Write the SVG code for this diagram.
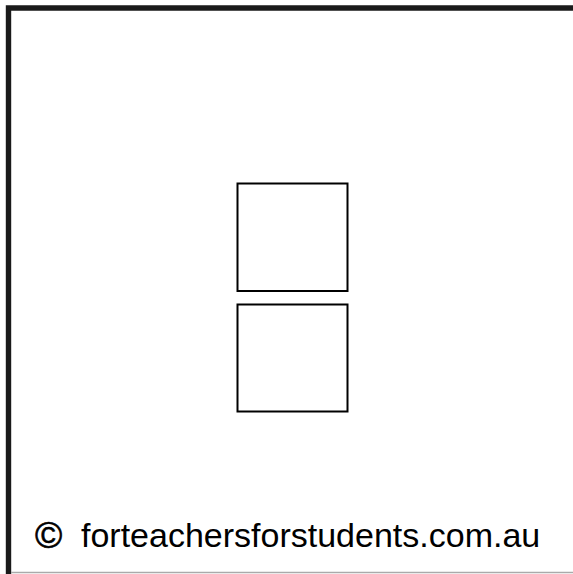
<svg xmlns="http://www.w3.org/2000/svg" width="573" height="574" viewBox="0 0 573 574">
<style>
.frame{fill:none;stroke:#1a1a1a;stroke-width:5.4}
.box{fill:#fff;stroke:#000;stroke-width:2}
.txt{font-family:"Liberation Sans",Arial,sans-serif;font-size:34px;fill:#000}
</style>
<rect width="573" height="574" fill="#fff"/>
<g id="frame">
<path class="frame" d="M8.5,574 V8 H573"/>
<line x1="11" y1="572.5" x2="573" y2="572.5" stroke="#aaa" stroke-width="1.5"/>
</g>
<g id="box-top"><rect class="box" x="237.5" y="183.5" width="110" height="107.5"/></g>
<g id="box-bottom"><rect class="box" x="237.5" y="304.5" width="110" height="107"/></g>
<g id="connectors"></g>
<g id="copyright">
<text class="txt" x="35" y="548" style="font-size:37px" stroke="#000" stroke-width="0.6">©</text>
<text class="txt" x="81" y="547">forteachersforstudents.com.au</text>
</g>
</svg>
